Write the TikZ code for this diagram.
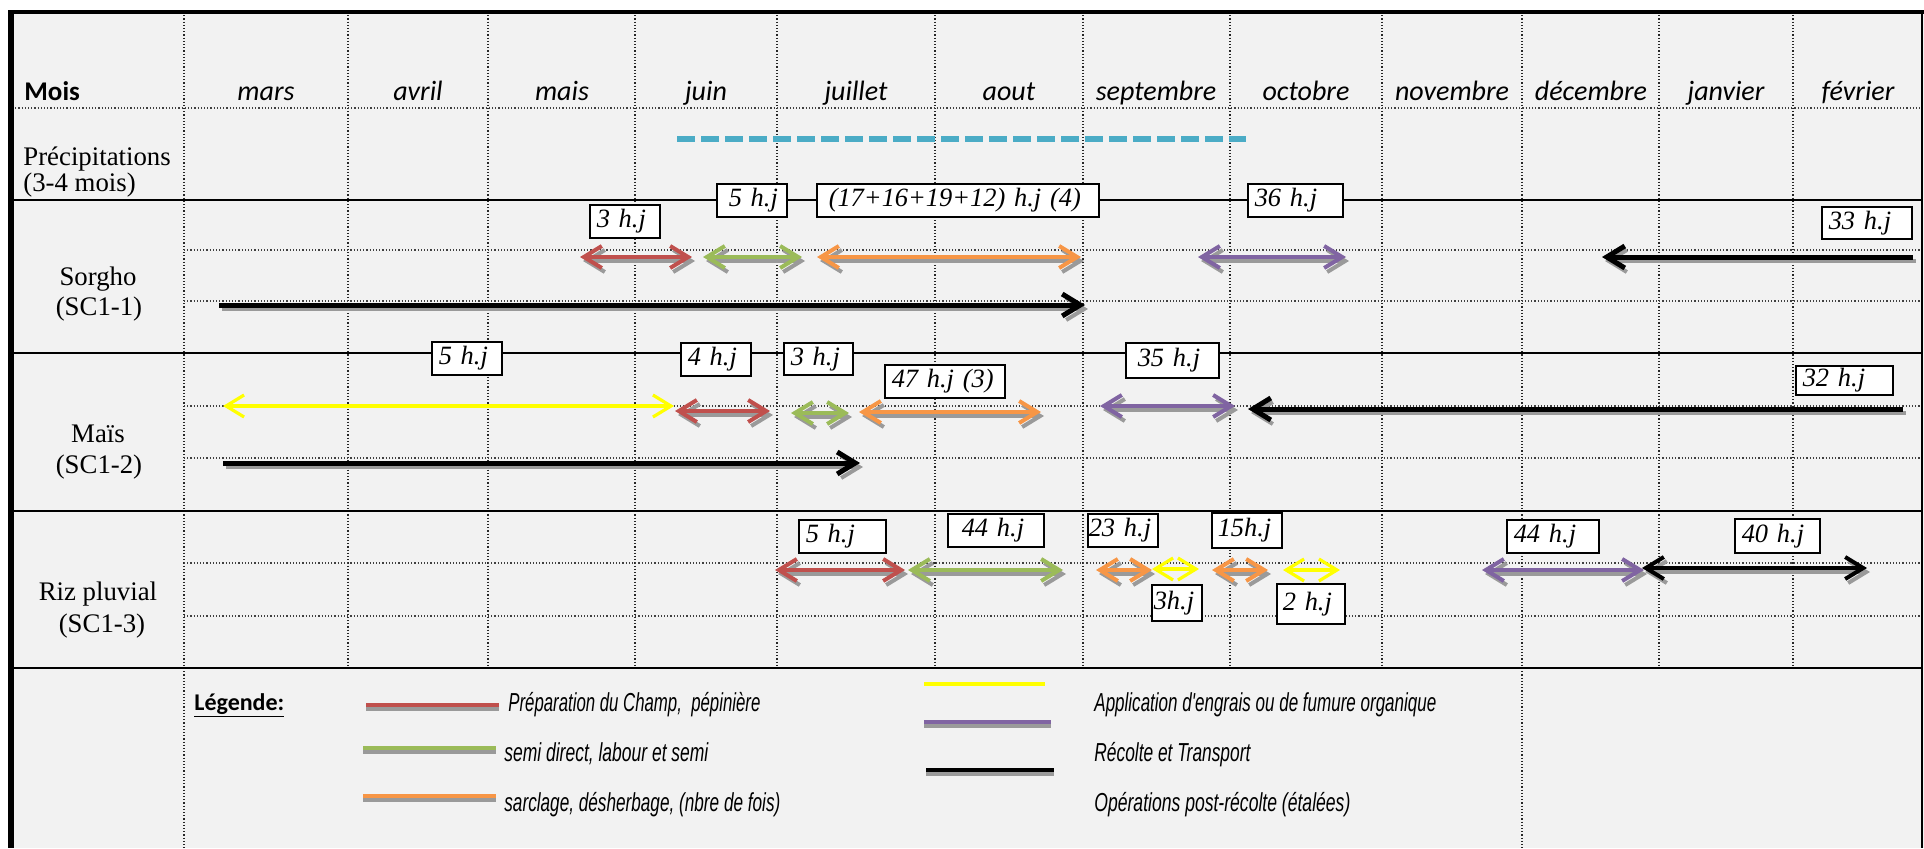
\documentclass[tikz,border=0pt]{standalone}
\usepackage{fontspec}
\usepackage{graphicx}
\setmainfont{Liberation Serif}
\newfontfamily\calfont{Carlito}
\newfontfamily\legfont{Liberation Sans}
\usetikzlibrary{arrows.meta,shadows}
\definecolor{cred}{HTML}{C0504D}
\definecolor{cgreen}{HTML}{9BBB59}
\definecolor{corange}{HTML}{F79646}
\definecolor{cpurple}{HTML}{8064A2}
\definecolor{cyell}{HTML}{FFFF00}
\definecolor{cblue}{HTML}{4BACC6}
\definecolor{cshadow}{HTML}{9A9A9A}
\definecolor{cbg}{HTML}{F2F2F2}
\tikzset{
  gridv/.style={densely dotted, line width=0.6pt, black!85},
  gridh/.style={densely dotted, line width=0.6pt, black!75},
  rowsep/.style={line width=1.1pt, black},
  ar/.style={line width=2pt},
  shd/.style={line width=2pt, cshadow},
  dbl/.style={{Straight Barb[length=9pt,width=11pt]}-{Straight Barb[length=9pt,width=11pt]}},
  lft/.style={{Straight Barb[length=9pt,width=11pt]}-},
  rgt/.style={-{Straight Barb[length=9pt,width=11pt]}},
  month/.style={anchor=base, font=\calfont\itshape\fontsize{14}{16}\selectfont},
  lbl/.style={anchor=base, font=\fontsize{13.4}{15}\selectfont},
  hjbox/.style={draw=black, line width=0.75pt, fill=white, inner xsep=0pt, inner ysep=0pt,
     align=left, font=\itshape\fontsize{13.2}{15}\selectfont,
     drop shadow={shadow xshift=0.8pt,shadow yshift=-0.8pt,fill=black!45,opacity=1}},
  legt/.style={anchor=base west, inner sep=0pt, font=\legfont\itshape\fontsize{13}{14}\selectfont},
}
% arrow with shadow: colour, tips, x1, x2, y
\newcommand\garr[5]{%
  \draw[shd,#2] ([xshift=1.5pt,yshift=-2pt]#3,#5) -- ([xshift=1.5pt,yshift=-2pt]#4,#5);
  \draw[ar,#1,#2] (#3,#5) -- (#4,#5);}
% box label: [pad] name, x1, y1, x2, y2, text
\newcommand\hj[7][3.5pt]{%
  \pgfmathsetmacro\hjw{(#5-#3)*0.5}%
  \pgfmathsetmacro\hjh{(#6-#4)*0.5}%
  \node[hjbox, text width=\hjw pt, minimum height=\hjh pt, anchor=north west] (#2) at (#3,#4) {\hspace*{#1}#7};}
% legend bar: colour, x1, x2, ytop, with shadow
\newcommand\legbar[4]{%
  \fill[cshadow] (#2,#4+4) rectangle (#3,#4+8);
  \fill[#1] (#2,#4) rectangle (#3,#4+4);}
\begin{document}
\begin{tikzpicture}[x=0.5pt,y=-0.5pt]
\useasboundingbox (0,0) rectangle (1924,848);
\fill[white] (0,0) rectangle (1924,848);
\fill[cbg] (10,12) rectangle (1924,848);
% grid
\foreach \x in {348,488,635,777,935,1083,1230,1382,1659,1793} \draw[gridv] (\x,12) -- (\x,668);
\foreach \x in {184,1522} \draw[gridv] (\x,12) -- (\x,848);
\draw[gridh] (12,108) -- (1922,108);
\foreach \y in {250,301,406,458,563,616} \draw[gridh] (184,\y) -- (1922,\y);
\foreach \y in {200,353,511,668} \draw[rowsep] (12,\y) -- (1922,\y);
\draw[line width=2.2pt] (8,12) -- (1924,12);
\draw[line width=2.6pt] (11,10) -- (11,848);
\draw[line width=0.8pt] (1922,12) -- (1922,848);
% header
\node[anchor=base west, inner sep=0pt, font=\calfont\bfseries\fontsize{13.5}{16}\selectfont] (mois) at (24,100) {Mois};
\foreach \m/\x in {mars/266,avril/418,mais/562,juin/706,juillet/856,aout/1009,septembre/1156,octobre/1306,novembre/1452,décembre/1591,janvier/1726,février/1858}
  \node[month] (m\x) at (\x,100) {\m};
% row labels
\node[lbl, anchor=base west, inner sep=0pt] (pr1) at (23,165) {Précipitations};
\node[lbl, anchor=base west, inner sep=0pt] (pr2) at (23,191) {(3-4 mois)};
\node[lbl] (so1) at (98,285) {Sorgho};
\node[lbl] (so2) at (99,315) {(SC1-1)};
\node[lbl] (ma1) at (98,442) {Maïs};
\node[lbl] (ma2) at (99,473) {(SC1-2)};
\node[lbl] (ri1) at (98,600) {Riz pluvial};
\node[lbl] (ri2) at (102,632) {(SC1-3)};
% rainfall
\draw[cblue, line width=3pt, dash pattern=on 9pt off 3pt] (677,139) -- (1246,139);
% Sorgho
\garr{cred}{dbl}{580}{692}{257}
\garr{cgreen}{dbl}{703}{802}{257}
\garr{corange}{dbl}{817}{1081}{257}
\garr{cpurple}{dbl}{1198}{1346}{257}
\garr{black,line width=2.5pt}{lft}{1602}{1913}{257}
\garr{black,line width=2.5pt}{rgt}{219}{1085}{305}
% Mais
\draw[ar,cyell,line width=1.6pt,dbl] (223,406) -- (674,406);
\garr{cred}{dbl}{675}{770}{411}
\garr{cgreen}{dbl}{791}{849}{413}
\garr{corange}{dbl}{859}{1041}{412}
\garr{cpurple}{dbl}{1100}{1235}{406}
\garr{black,line width=2.5pt}{lft}{1248}{1903}{409}
\garr{black,line width=2.5pt}{rgt}{223}{860}{463}
% Riz
\garr{cred}{dbl}{775}{905}{570}
\garr{cgreen}{dbl}{908}{1063}{570}
\garr{corange}{dbl}{1096}{1152}{570}
\draw[ar,cyell,line width=1.6pt,dbl] (1152,569) -- (1199,569);
\garr{corange}{dbl}{1212}{1268}{570}
\draw[ar,cyell,line width=1.6pt,dbl] (1283,570) -- (1340,570);
\garr{cpurple}{dbl}{1482}{1644}{570}
\garr{black}{dbl}{1642}{1867}{568}
% labels h.j
\hj{s1}{589}{204}{659}{237}{3 h.j}
\hj[6pt]{s2}{716}{183}{786}{216}{5 h.j}
\hj[6pt]{s3}{816}{183}{1098}{216}{(17+16+19+12) h.j (4)}
\hj{s4}{1247}{183}{1342}{216}{36 h.j}
\hj{s5}{1821}{206}{1911}{238}{33 h.j}
\hj{m1}{431}{341}{501}{374}{5 h.j}
\hj{m2}{680}{342}{750}{375}{4 h.j}
\hj{m3}{783}{342}{852}{374}{3 h.j}
\hj{m4}{884}{364}{1004}{397}{47 h.j (3)}
\hj[6pt]{m5}{1125}{342}{1218}{377}{35 h.j}
\hj{m6}{1795}{365}{1892}{394}{32 h.j}
\hj{r1}{798}{519}{885}{552}{5 h.j}
\hj[7pt]{r2}{947}{513}{1043}{546}{44 h.j}
\hj[0.5pt]{r3}{1087}{513}{1157}{546}{23 h.j}
\hj[3pt]{r4}{1211}{512}{1281}{547}{15h.j}
\hj[1pt]{r5}{1151}{584}{1201}{620}{3h.j}
\hj[3pt]{r6}{1276}{583}{1344}{623}{2 h.j}
\hj{r7}{1506}{519}{1598}{552}{44 h.j}
\hj{r8}{1734}{518}{1819}{552}{40 h.j}
% legend
\node[anchor=base west, inner sep=0pt, font=\calfont\bfseries\fontsize{12}{14}\selectfont] (leg) at (194,710) {\underline{Légende:}};
\legbar{cred}{366}{499}{703}
\legbar{cgreen}{363}{496}{746}
\legbar{corange}{363}{496}{794}
\fill[cyell] (924,682) rectangle (1045,686);
\legbar{cpurple}{924}{1051}{720}
\legbar{black}{926}{1054}{768}
\node[legt] (l1) at (508,711) {\resizebox{126pt}{\height}{Préparation du Champ,\ \ pépinière}};
\node[legt] (l2) at (504,761) {\resizebox{102pt}{\height}{semi direct, labour et semi}};
\node[legt] (l3) at (504,811) {\resizebox{138pt}{\height}{sarclage, désherbage, (nbre de fois)}};
\node[legt] (l4) at (1094,711) {\resizebox{171pt}{\height}{Application d'engrais ou de fumure organique}};
\node[legt] (l5) at (1094,761) {\resizebox{78pt}{\height}{Récolte et Transport}};
\node[legt] (l6) at (1094,811) {\resizebox{128pt}{\height}{Opérations post-récolte (étalées)}};
\end{tikzpicture}
\end{document}
